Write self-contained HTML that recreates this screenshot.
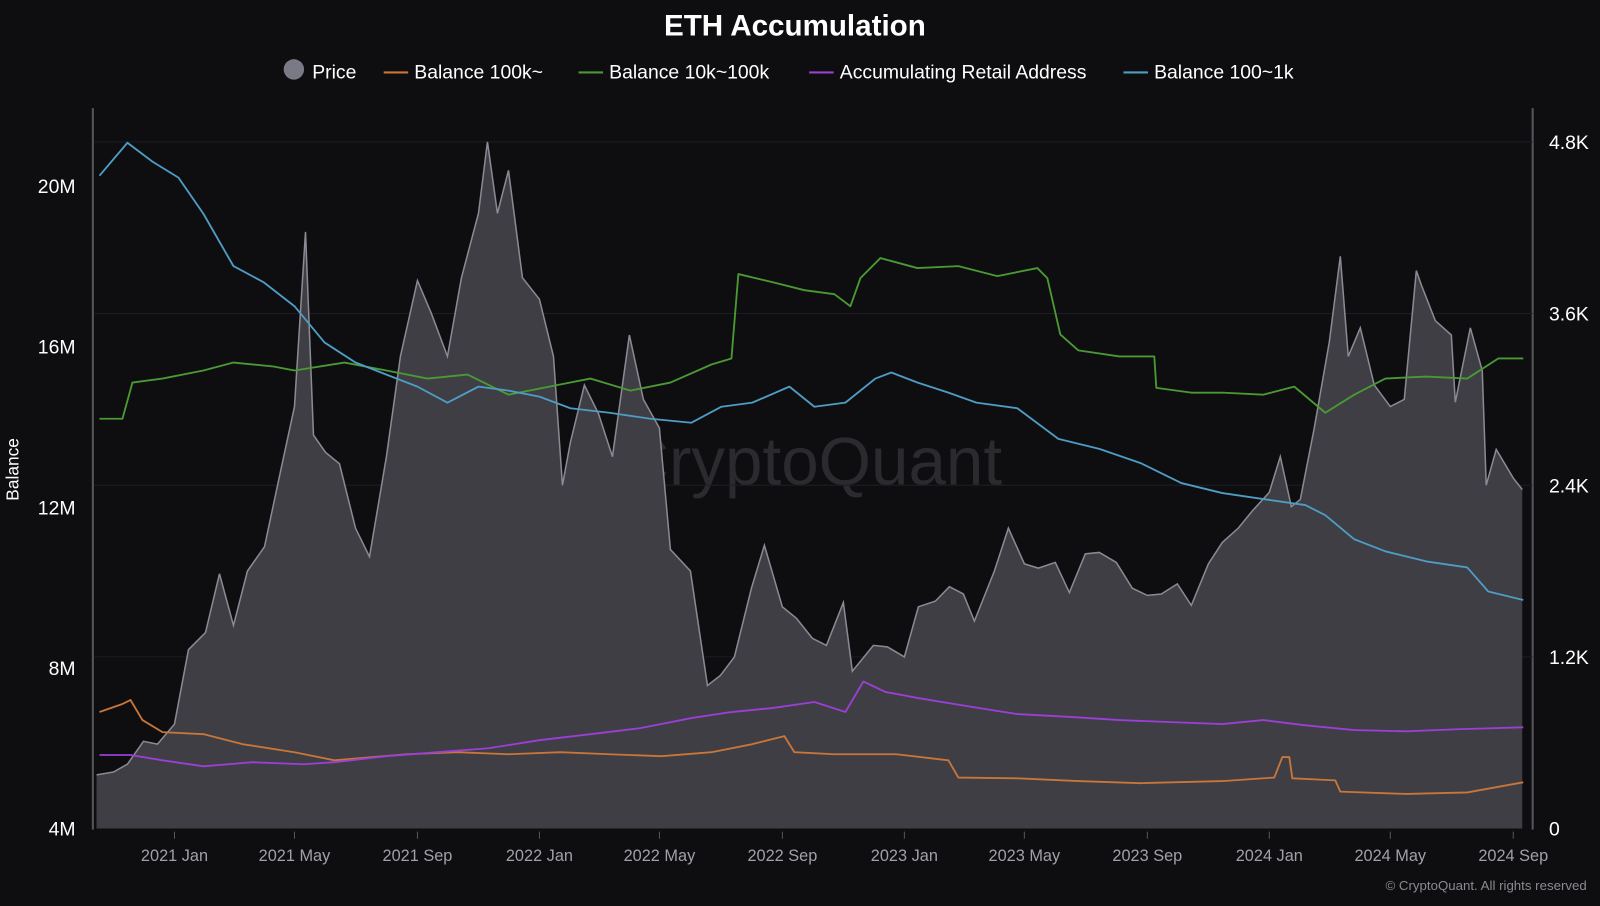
<!DOCTYPE html>
<html><head><meta charset="utf-8">
<style>
html,body{margin:0;padding:0;background:#0e0e11;}
body{width:1600px;height:901px;overflow:hidden;font-family:"Liberation Sans",sans-serif;}
svg text{font-family:"Liberation Sans",sans-serif;}
</style></head>
<body>
<svg id="chart" width="1600" height="901" viewBox="0 0 1568 883" preserveAspectRatio="none" xmlns="http://www.w3.org/2000/svg">
<rect x="0" y="0" width="1568" height="883" fill="#0e0e11"/>
<text x="779" y="35" text-anchor="middle" fill="#ffffff" font-size="29" font-weight="bold">ETH Accumulation</text>
<g id="legend">
 <g><circle cx="288" cy="68" r="10" fill="#7a7a86"/><text x="306" y="77" fill="#ffffff" font-size="19">Price</text></g>
 <g><line x1="376" y1="71" x2="400" y2="71" stroke="#c8763a" stroke-width="2"/><text x="406" y="77" fill="#ffffff" font-size="19">Balance 100k~</text></g>
 <g><line x1="567" y1="71" x2="591" y2="71" stroke="#4a9a34" stroke-width="2"/><text x="597" y="77" fill="#ffffff" font-size="19">Balance 10k~100k</text></g>
 <g><line x1="793" y1="71" x2="817" y2="71" stroke="#9b3fd6" stroke-width="2"/><text x="823" y="77" fill="#ffffff" font-size="19">Accumulating Retail Address</text></g>
 <g><line x1="1101" y1="71" x2="1125" y2="71" stroke="#4f9cc4" stroke-width="2"/><text x="1131" y="77" fill="#ffffff" font-size="19">Balance 100~1k</text></g>
</g>
<text x="0" y="0" transform="translate(18,460) rotate(-90)" text-anchor="middle" fill="#ffffff" font-size="17">Balance</text>
<line x1="91" y1="106" x2="91" y2="813" stroke="#55555c" stroke-width="2"/>
<line x1="1502" y1="106" x2="1502" y2="813" stroke="#55555c" stroke-width="2"/>
<text x="1555" y="872" text-anchor="end" fill="#8a8a90" font-size="13">© CryptoQuant. All rights reserved</text>
<text x="795" y="475" text-anchor="middle" fill="#2a2a2f" font-size="66">CryptoQuant</text>
<g id="grid"></g><g id="marks"></g><g id="axes"></g>
</svg>
<script>
const priceDates=["2020-10-15","2020-11-01","2020-11-15","2020-12-01","2020-12-15","2021-01-01","2021-01-15","2021-02-01","2021-02-15","2021-03-01","2021-03-15","2021-04-01","2021-04-15","2021-05-01","2021-05-12","2021-05-20","2021-06-01","2021-06-15","2021-07-01","2021-07-15","2021-08-01","2021-08-15","2021-09-01","2021-09-15","2021-10-01","2021-10-15","2021-11-01","2021-11-10","2021-11-20","2021-12-01","2021-12-15","2022-01-01","2022-01-15","2022-01-24","2022-02-01","2022-02-15","2022-03-01","2022-03-15","2022-04-01","2022-04-15","2022-05-01","2022-05-12","2022-06-01","2022-06-18","2022-07-01","2022-07-15","2022-08-01","2022-08-14","2022-09-01","2022-09-15","2022-10-01","2022-10-15","2022-11-01","2022-11-10","2022-12-01","2022-12-15","2023-01-01","2023-01-15","2023-02-01","2023-02-15","2023-03-01","2023-03-12","2023-04-01","2023-04-15","2023-05-01","2023-05-15","2023-06-01","2023-06-15","2023-07-01","2023-07-15","2023-08-01","2023-08-17","2023-09-01","2023-09-15","2023-10-01","2023-10-15","2023-11-01","2023-11-15","2023-12-01","2023-12-15","2024-01-01","2024-01-12","2024-01-23","2024-02-01","2024-02-15","2024-03-01","2024-03-12","2024-03-20","2024-04-01","2024-04-15","2024-05-01","2024-05-15","2024-05-27","2024-06-01","2024-06-15","2024-07-01","2024-07-05","2024-07-20","2024-08-01","2024-08-05","2024-08-15","2024-09-01","2024-09-10"];
const priceValues=[375,395,450,610,590,730,1250,1370,1780,1420,1800,1970,2430,2950,4170,2750,2630,2550,2100,1900,2600,3300,3830,3600,3300,3850,4300,4800,4300,4600,3850,3700,3300,2400,2700,3100,2900,2600,3450,3000,2800,1950,1800,1000,1070,1200,1680,1980,1550,1470,1330,1280,1580,1100,1280,1270,1200,1550,1590,1690,1640,1450,1800,2100,1850,1820,1860,1650,1920,1930,1860,1680,1630,1640,1710,1560,1850,2000,2100,2220,2350,2600,2250,2300,2800,3400,4000,3300,3500,3100,2950,3000,3900,3800,3550,3450,2980,3500,3200,2400,2650,2450,2370];

const blueDates=["2020-10-18","2020-11-15","2020-12-10","2021-01-05","2021-01-30","2021-03-01","2021-03-31","2021-05-01","2021-05-31","2021-07-01","2021-08-01","2021-09-01","2021-10-01","2021-11-01","2021-12-01","2022-01-01","2022-02-01","2022-03-12","2022-04-22","2022-06-02","2022-07-02","2022-08-02","2022-09-08","2022-10-03","2022-11-03","2022-12-03","2022-12-19","2023-01-14","2023-02-14","2023-03-14","2023-04-24","2023-06-04","2023-07-15","2023-08-25","2023-10-05","2023-11-15","2023-12-26","2024-02-06","2024-02-26","2024-03-26","2024-04-26","2024-06-06","2024-07-17","2024-08-07","2024-09-11"];
const blueValues=[20.25,21.07,20.6,20.2,19.3,18.0,17.6,17.0,16.1,15.6,15.3,15.0,14.6,15.0,14.9,14.75,14.46,14.35,14.2,14.1,14.5,14.6,15.0,14.5,14.6,15.2,15.35,15.1,14.85,14.6,14.46,13.7,13.45,13.1,12.6,12.35,12.2,12.05,11.8,11.2,10.9,10.65,10.5,9.9,9.69];

const greenDates=["2020-10-18","2020-11-10","2020-11-20","2020-12-20","2021-01-30","2021-03-01","2021-04-10","2021-05-01","2021-06-20","2021-08-01","2021-09-11","2021-10-21","2021-12-01","2022-01-11","2022-02-21","2022-04-02","2022-05-12","2022-06-22","2022-07-12","2022-07-19","2022-08-22","2022-09-23","2022-10-23","2022-11-08","2022-11-18","2022-12-08","2023-01-14","2023-02-24","2023-04-04","2023-05-14","2023-05-24","2023-06-06","2023-06-24","2023-08-04","2023-09-08","2023-09-10","2023-10-15","2023-11-15","2023-12-26","2024-01-26","2024-02-26","2024-03-26","2024-04-26","2024-06-06","2024-07-17","2024-08-17","2024-09-11"];
const greenValues=[14.2,14.2,15.1,15.2,15.4,15.6,15.5,15.4,15.6,15.4,15.2,15.3,14.8,15.0,15.2,14.9,15.1,15.55,15.7,17.8,17.6,17.4,17.3,17.0,17.7,18.2,17.95,18.0,17.75,17.95,17.7,16.3,15.9,15.75,15.75,14.97,14.85,14.85,14.8,15.0,14.35,14.8,15.2,15.25,15.2,15.7,15.7];

const orangeDates=["2020-10-18","2020-11-10","2020-11-18","2020-11-30","2020-12-20","2021-01-30","2021-03-10","2021-05-01","2021-06-10","2021-08-21","2021-10-11","2021-12-01","2022-01-22","2022-03-12","2022-05-03","2022-06-22","2022-08-02","2022-09-03","2022-09-13","2022-10-23","2022-12-24","2023-02-14","2023-02-24","2023-04-24","2023-06-24","2023-08-25","2023-11-15","2024-01-06","2024-01-14","2024-01-21","2024-01-24","2024-03-07","2024-03-12","2024-05-17","2024-07-17","2024-09-11"];
const orangeValues=[6.9,7.1,7.2,6.7,6.4,6.35,6.1,5.9,5.7,5.85,5.9,5.85,5.9,5.85,5.8,5.9,6.1,6.3,5.9,5.85,5.85,5.7,5.27,5.25,5.18,5.13,5.18,5.27,5.78,5.78,5.25,5.2,4.92,4.86,4.9,5.15];

const purpleDates=["2020-10-18","2020-11-18","2020-12-20","2021-01-30","2021-03-20","2021-05-10","2021-06-10","2021-08-01","2021-09-21","2021-11-11","2022-01-01","2022-02-21","2022-04-12","2022-06-02","2022-07-12","2022-08-22","2022-10-03","2022-11-03","2022-11-21","2022-12-13","2023-01-14","2023-03-04","2023-04-24","2023-06-14","2023-08-04","2023-09-25","2023-11-15","2023-12-26","2024-02-06","2024-03-26","2024-05-17","2024-07-07","2024-09-11"];
const purpleValues=[5.83,5.83,5.7,5.55,5.65,5.6,5.65,5.8,5.9,6.0,6.2,6.35,6.5,6.75,6.9,7.0,7.15,6.9,7.66,7.4,7.25,7.05,6.85,6.78,6.7,6.65,6.6,6.7,6.57,6.45,6.42,6.47,6.52];

const leftTicks=[4,8,12,16,20];
const leftTickLabels=["4M","8M","12M","16M","20M"];
const rightTicks=[0,1200,2400,3600,4800];
const rightTickLabels=["0","1.2K","2.4K","3.6K","4.8K"];
const xTickDates=["2021-01-01","2021-05-01","2021-09-01","2022-01-01","2022-05-01","2022-09-01","2023-01-01","2023-05-01","2023-09-01","2024-01-01","2024-05-01","2024-09-01"];
const xTickLabels=["2021 Jan","2021 May","2021 Sep","2022 Jan","2022 May","2022 Sep","2023 Jan","2023 May","2023 Sep","2024 Jan","2024 May","2024 Sep"];

const NS="http://www.w3.org/2000/svg";
const t0=Date.parse("2021-01-01"), t1=Date.parse("2024-09-01");
function xs(d){return 171+(Date.parse(d)-t0)/(t1-t0)*(1483-171);}
function yl(v){return 812-(v-4)/16*(812-182);}
function yr(v){return 812-v/4800*(812-139);}
function mk(tag,attrs,parent){const e=document.createElementNS(NS,tag);for(const k in attrs)e.setAttribute(k,attrs[k]);parent.appendChild(e);return e;}
const grid=document.getElementById('grid'),marks=document.getElementById('marks'),axes=document.getElementById('axes');

rightTicks.forEach((v,i)=>{
  if(v>0){const g=mk('line',{x1:92,x2:1502,y1:yr(v),y2:yr(v),stroke:'#1d1d22','stroke-width':1},grid);
  
  }
  const t=mk('text',{x:1518,y:yr(v)+7,fill:'#ffffff','font-size':19},axes);t.textContent=rightTickLabels[i];
  
  
});
leftTicks.forEach((v,i)=>{
  const t=mk('text',{x:74,y:yl(v)+7,fill:'#ffffff','font-size':19,'text-anchor':'end'},axes);t.textContent=leftTickLabels[i];
  
  
});
xTickDates.forEach((d,i)=>{
  const x=xs(d);
  const tk=mk('line',{x1:x,x2:x,y1:815,y2:822,stroke:'#55555c'},axes);
  
  
  const t=mk('text',{x:x,y:844,fill:'#a0a0a8','font-size':16,'text-anchor':'middle'},axes);t.textContent=xTickLabels[i];
  
  
});

let pts=priceDates.map((d,i)=>xs(d).toFixed(1)+','+yr(priceValues[i]).toFixed(1));
let x0=xs(priceDates[0]),xN=xs(priceDates[priceDates.length-1]);
const area=mk('path',{d:'M'+x0+','+yr(0)+' L'+pts.join(' L')+' L'+xN+','+yr(0)+' Z',fill:'#3e3e44'},marks);


const pl=mk('polyline',{points:pts.join(' '),fill:'none',stroke:'#8a8a94','stroke-width':1.5},marks);



function line(dates,vals,color,name){
  const p=dates.map((d,i)=>xs(d).toFixed(1)+','+yl(vals[i]).toFixed(1)).join(' ');
  const l=mk('polyline',{points:p,fill:'none',stroke:color,'stroke-width':1.8,'stroke-linejoin':'round'},marks);
  
  
}
line(orangeDates,orangeValues,'#c8763a','balance-100k-line');
line(purpleDates,purpleValues,'#9b3fd6','accumulating-retail-line');
line(greenDates,greenValues,'#4a9a34','balance-10k-100k-line');
line(blueDates,blueValues,'#4f9cc4','balance-100-1k-line');
</script>
</body></html>
